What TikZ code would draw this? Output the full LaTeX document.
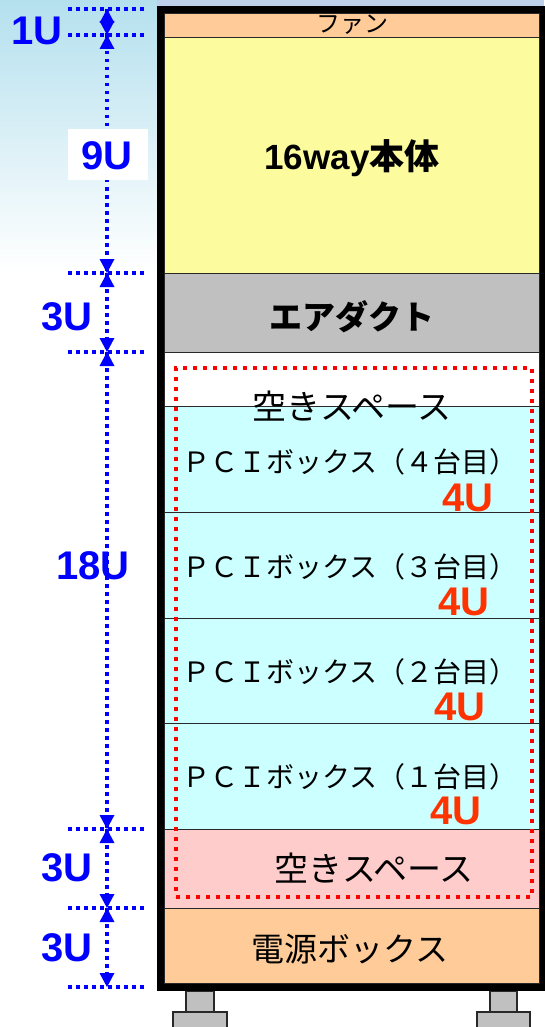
\documentclass[tikz,border=0pt]{standalone}
\usepackage{fontspec}
\setmainfont{Liberation Sans}
\newfontfamily\jp{Noto Sans CJK JP}
\usetikzlibrary{arrows.meta}
\definecolor{dimblue}{RGB}{0,0,255}
\definecolor{peach}{RGB}{255,204,153}
\definecolor{paleyellow}{RGB}{252,252,158}
\definecolor{ductgray}{RGB}{192,192,192}
\definecolor{pcicyan}{RGB}{204,255,255}
\definecolor{pinkish}{RGB}{255,204,204}
\definecolor{grpred}{RGB}{255,0,0}
\definecolor{uorange}{RGB}{255,51,0}
\definecolor{edge}{RGB}{40,40,40}
\definecolor{bgblue}{RGB}{180,224,238}
\definecolor{bgtop}{RGB}{190,208,236}
\begin{document}
\begin{tikzpicture}[x=1pt,y=-1pt,
  dimline/.style={dimblue, line width=3.5pt, dash pattern=on 3.5pt off 4.5pt},
  dimhead/.style={fill=dimblue},
  dimlabel/.style={text=dimblue, font=\fontsize{40}{40}\selectfont\bfseries, inner sep=0pt},
  ulabel/.style={text=uorange, font=\fontsize{40}{40}\selectfont\bfseries, inner sep=0pt},
  comp/.style={draw=edge, line width=1.2pt, minimum width=375pt, inner sep=0pt, anchor=north west},
  jtext/.style={inner sep=0pt, font=\jp\fontsize{#1}{#1}\selectfont},
  jbold/.style={inner sep=0pt, font=\jp\fontsize{#1}{#1}\selectfont\bfseries},
  foot/.style={fill=ductgray, draw=edge, line width=1.2pt}
]
\useasboundingbox (0,0) rectangle (544,1027);
% background
\shade[top color=bgblue, bottom color=white] (0,0) rectangle (157,270);
\fill[bgtop] (157,0) rectangle (544,6);

% feet
\draw[foot] (186,991) rectangle (214,1012);
\draw[foot] (173,1012) rectangle (227,1030);
\draw[foot] (490,991) rectangle (517,1012);
\draw[foot] (477,1012) rectangle (530,1030);

% rack frame
\node[fill=black, minimum width=391pt, minimum height=985pt, inner sep=0pt, anchor=north west] (frame) at (157,6) {};

% compartments
\node[comp, fill=peach, minimum height=24pt] (fan) at (164,13) {};
\node[comp, fill=paleyellow, minimum height=236pt] (body) at (164,37) {};
\node[comp, fill=ductgray, minimum height=79pt] (duct) at (164,273) {};
\node[comp, fill=white, minimum height=54pt] (space1) at (164,352) {};
\node[comp, fill=pcicyan, minimum height=106pt] (pci4) at (164,406) {};
\node[comp, fill=pcicyan, minimum height=106pt] (pci3) at (164,512) {};
\node[comp, fill=pcicyan, minimum height=105pt] (pci2) at (164,618) {};
\node[comp, fill=pcicyan, minimum height=106pt] (pci1) at (164,723) {};
\node[comp, fill=pinkish, minimum height=79pt] (space2) at (164,829) {};
\node[comp, fill=peach, minimum height=75pt] (power) at (164,908) {};

% texts
\node[jtext=24] (tfan) at (352,25) {ファン};
\node[inner sep=0pt] (tbody) at (352,158) {\fontsize{35}{35}\selectfont\bfseries 16way{\jp\bfseries 本体}};
\node[jbold=33] (tduct) at (352,317) {エアダクト};
\node[jtext=34] (tspace1) at (352,406) {空きスペース};
\node[jtext=28] (tpci4) at (350,462) {ＰＣＩボックス（４台目）};
\node[jtext=28] (tpci3) at (350,567) {ＰＣＩボックス（３台目）};
\node[jtext=28] (tpci2) at (350,672) {ＰＣＩボックス（２台目）};
\node[jtext=28] (tpci1) at (350,777) {ＰＣＩボックス（１台目）};
\node[jtext=34] (tspace2) at (374,868) {空きスペース};
\node[jtext=33] (tpower) at (350,949) {電源ボックス};

\node[ulabel] (u4) at (468,498) {4U};
\node[ulabel] (u3) at (464,602) {4U};
\node[ulabel] (u2) at (460,707) {4U};
\node[ulabel] (u1) at (456,811) {4U};

% red dotted group
\node[draw=grpred, line width=4pt, dash pattern=on 4pt off 6pt, minimum width=356pt, minimum height=529pt, inner sep=0pt, anchor=north west] (grp) at (174,366) {};

% dimension ticks
\foreach \i/\y in {0/9,1/35,2/273,3/352,4/829,5/908,6/987}{
  \coordinate (dl\i) at (68,\y);
  \coordinate (dr\i) at (145,\y);
  \coordinate (dm\i) at (107,\y);
  \draw[dimline] (dl\i) -- (dr\i);
}
\foreach \i/\j in {0/1,1/2,2/3,3/4,4/5,5/6}{
  \draw[dimline] (dm\i) -- (dm\j);
  \fill[dimhead] (dm\i) -- ++(-7.5,14) -- ++(15,0) -- cycle;
  \fill[dimhead] (dm\j) -- ++(-7.5,-14) -- ++(15,0) -- cycle;
}

% dimension labels
\node[dimlabel] (l1) at (37,31) {1U};
\node[fill=white, minimum width=80pt, minimum height=51pt, inner sep=0pt] (l9box) at (108,154.5) {};
\node[dimlabel] (l9) at (107,156) {9U};
\node[dimlabel] (l3a) at (67,317) {3U};
\node[dimlabel] (l18) at (93,566) {18U};
\node[dimlabel] (l3b) at (67,868) {3U};
\node[dimlabel] (l3c) at (67,948) {3U};
\end{tikzpicture}
\end{document}
